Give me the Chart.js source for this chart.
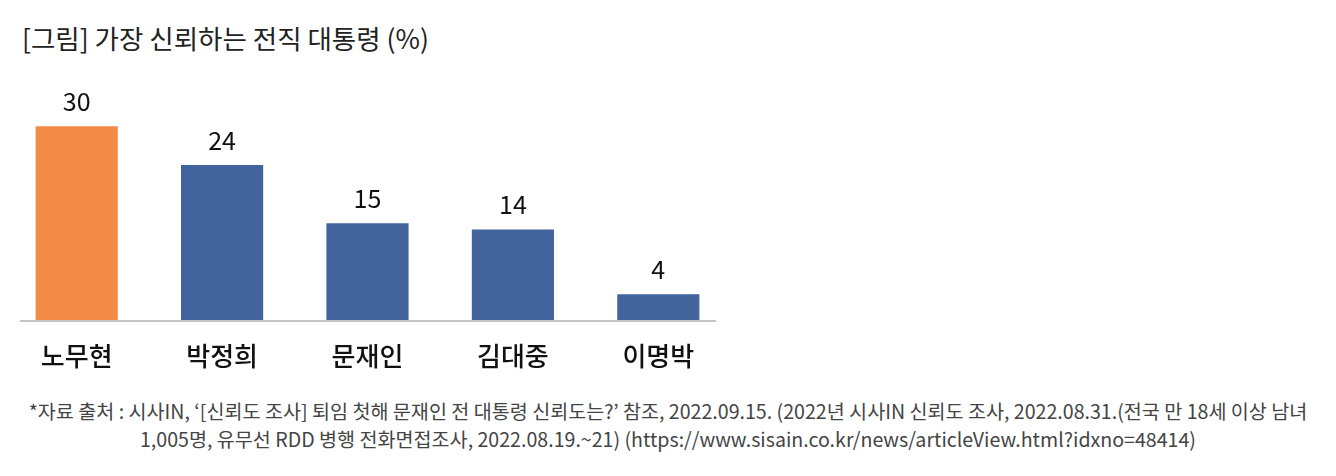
<!DOCTYPE html>
<html>
<head>
<meta charset="utf-8">
<script src="https://cdn.jsdelivr.net/npm/chart.js@4"></script>
<style>
  body { margin: 0; background: #fff; }
  #wrap { position: relative; width: 1336px; height: 476px; overflow: hidden; font-family: "Noto Sans CJK KR", "Noto Sans", sans-serif; }
  #title { position: absolute; left: 22px; top: 18px; font-size: 26.5px; color: #222; white-space: nowrap; }
  #box { position: absolute; left: 0; top: 0; width: 760px; height: 380px; }
  #note { position: absolute; left: 0; top: 397px; width: 1336px; text-align: center; font-size: 19.6px; line-height: 28px; color: #444; white-space: nowrap; }
</style>
</head>
<body>
<div id="wrap">
  <div id="title">[그림] 가장 신뢰하는 전직 대통령 (%)</div>
  <div id="box"><canvas id="barChart"></canvas></div>
  <div id="note">*자료 출처 : 시사IN, ‘[신뢰도 조사] 퇴임 첫해 문재인 전 대통령 신뢰도는?’ 참조, 2022.09.15. (2022년 시사IN 신뢰도 조사, 2022.08.31.(전국 만 18세 이상 남녀<br>1,005명, 유무선 RDD 병행 전화면접조사, 2022.08.19.~21) (https://www.sisain.co.kr/news/articleView.html?idxno=48414)</div>
</div>
<script>
"use strict";

var presidents = ["노무현", "박정희", "문재인", "김대중", "이명박"];
var trust = [30, 24, 15, 14, 4];
var barColors = ["#F28A48", "#41649C", "#41649C", "#41649C", "#41649C"];

// value labels above bars
var valueLabels = {
  id: "valueLabels",
  afterDatasetsDraw(chart) {
    var ctx = chart.ctx;
    var meta = chart.getDatasetMeta(0);
    ctx.save();
    ctx.font = "25px 'Noto Sans CJK KR'";
    ctx.fillStyle = "#111";
    ctx.textAlign = "center";
    ctx.textBaseline = "middle";
    meta.data.forEach(function (bar, i) {
      ctx.fillText(trust[i], bar.x, bar.y - 25);
    });
    ctx.restore();
  }
};

// base line, a bit shorter than the plot area
var baseLine = {
  id: "baseLine",
  beforeDatasetsDraw(chart) {
    var ctx = chart.ctx;
    var a = chart.chartArea;
    ctx.save();
    ctx.strokeStyle = "#C4C4C4";
    ctx.lineWidth = 2;
    ctx.beginPath();
    ctx.moveTo(a.left + 16, a.bottom + 1);
    ctx.lineTo(a.right - 15, a.bottom + 1);
    ctx.stroke();
    ctx.restore();
  }
};

var ctxB = document.getElementById("barChart").getContext("2d");
var myBarChart = new Chart(ctxB, {
  type: "bar",
  data: {
    labels: presidents,
    datasets: [{
      data: trust,
      backgroundColor: barColors,
      borderWidth: 0,
      barPercentage: 0.565,
      categoryPercentage: 1
    }]
  },
  options: {
    responsive: true,
    maintainAspectRatio: false,
    animation: false,
    layout: { padding: { top: 94, left: 4, right: 29, bottom: 0 } },
    plugins: { legend: { display: false }, tooltip: { enabled: false } },
    scales: {
      x: {
        grid: { display: false },
        border: { display: false },
        ticks: {
          color: "#111",
          padding: 13,
          font: { family: "Noto Sans CJK KR", size: 26, weight: 500 }
        },
        afterFit(scale) { scale.height = 60; }
      },
      y: {
        display: false,
        min: 0,
        max: 35
      }
    }
  },
  plugins: [baseLine, valueLabels]
});
</script>
</body>
</html>
